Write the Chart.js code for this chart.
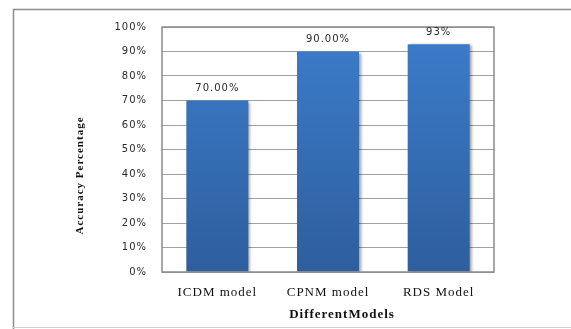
<!DOCTYPE html>
<html>
<head>
<meta charset="utf-8">
<script src="https://cdn.jsdelivr.net/npm/chart.js@4/dist/chart.umd.min.js"></script>
<style>
html,body{margin:0;padding:0;background:#fff;}
#wrap{width:571px;height:329px;position:relative;}
</style>
</head>
<body>
<div id="wrap"><canvas id="c" width="571" height="329"></canvas></div>
<script>
const categories = ["ICDM model", "CPNM model", "RDS Model"];
const accuracy = [70, 90, 93];
const valueLabels = ["70.00%", "90.00%", "93%"];
const yTicks = [0, 10, 20, 30, 40, 50, 60, 70, 80, 90, 100];
const xTitle = "DifferentModels";
const yTitle = "Accuracy Percentage";

const framePlugin = {
  id: 'frame',
  beforeDraw(chart) {
    const ctx = chart.ctx;
    ctx.save();
    ctx.fillStyle = '#fff';
    ctx.fillRect(0, 0, chart.width, chart.height);
    ctx.lineWidth = 1.5;
    ctx.strokeStyle = '#8c8c8c';
    ctx.beginPath();
    ctx.moveTo(13.5, chart.height);
    ctx.lineTo(13.5, 9.5);
    ctx.lineTo(chart.width, 9.5);
    ctx.stroke();
    ctx.lineWidth = 1;
    ctx.strokeStyle = '#d0d0d0';
    ctx.beginPath();
    ctx.moveTo(13, 327.5);
    ctx.lineTo(chart.width, 327.5);
    ctx.stroke();
    ctx.restore();
    ctx.letterSpacing = '1px';
  }
};

const shadowPlugin = {
  id: 'barShadow',
  beforeDatasetsDraw(chart) {
    const ctx = chart.ctx;
    ctx.save();
    ctx.shadowColor = 'rgba(0,0,0,0.4)';
    ctx.shadowBlur = 3;
    ctx.shadowOffsetX = 2;
    ctx.shadowOffsetY = 1;
  },
  afterDatasetsDraw(chart) {
    chart.ctx.restore();
  }
};

const borderPlugin = {
  id: 'plotBorder',
  afterDatasetsDraw(chart) {
    const {ctx, chartArea: a} = chart;
    ctx.save();
    ctx.strokeStyle = '#8a8a8a';
    ctx.lineWidth = 1.5;
    ctx.strokeRect(a.left, a.top, a.right - a.left, a.bottom - a.top);
    ctx.restore();
  }
};

const labelPlugin = {
  id: 'valueLabels',
  afterDatasetsDraw(chart) {
    const ctx = chart.ctx;
    const meta = chart.getDatasetMeta(0);
    ctx.save();
    ctx.letterSpacing = '1px';
    ctx.font = '10px "DejaVu Sans", Verdana, sans-serif';
    ctx.fillStyle = '#2a2a2a';
    ctx.textAlign = 'center';
    ctx.textBaseline = 'middle';
    meta.data.forEach((bar, i) => {
      ctx.fillText(valueLabels[i], bar.x, bar.y - 12);
    });
    ctx.restore();
  }
};

const titlePlugin = {
  id: 'axisTitles',
  afterDraw(chart) {
    const ctx = chart.ctx;
    const a = chart.chartArea;
    ctx.save();
    ctx.letterSpacing = '1px';
    ctx.fillStyle = '#111';
    ctx.textAlign = 'center';
    ctx.textBaseline = 'middle';
    ctx.font = 'bold 13px "Liberation Serif", "Times New Roman", serif';
    ctx.fillText(xTitle, (a.left + a.right) / 2 + 14, a.bottom + 43);
    ctx.translate(80, (a.top + a.bottom) / 2 + 26);
    ctx.rotate(-Math.PI / 2);
    ctx.font = 'bold 11px "Liberation Serif", "Times New Roman", serif';
    ctx.fillText(yTitle, 0, 0);
    ctx.restore();
  }
};

function barGradient(context) {
  const chart = context.chart;
  const a = chart.chartArea;
  if (!a) return '#3570b8';
  const g = chart.ctx.createLinearGradient(0, a.top, 0, a.bottom);
  g.addColorStop(0, '#3c7dcc');
  g.addColorStop(1, '#2e5e9d');
  return g;
}

new Chart(document.getElementById('c'), {
  type: 'bar',
  data: {
    labels: categories,
    datasets: [{
      data: accuracy,
      backgroundColor: barGradient,
      borderWidth: 0,
      categoryPercentage: 1,
      barPercentage: 0.56
    }]
  },
  plugins: [framePlugin, shadowPlugin, borderPlugin, labelPlugin, titlePlugin],
  options: {
    responsive: false,
    animation: false,
    devicePixelRatio: 1,
    layout: { padding: { left: 72, top: 27, right: 77, bottom: 0 } },
    plugins: { legend: { display: false }, tooltip: { enabled: false } },
    scales: {
      x: {
        grid: { display: false, drawTicks: false },
        border: { display: false },
        ticks: {
          padding: 13,
          color: '#111',
          font: { family: '"Liberation Serif", "Times New Roman", serif', size: 13 }
        },
        title: { display: false },
        afterFit(scale) { scale.height = 57; }
      },
      y: {
        min: 0,
        max: 100,
        afterBuildTicks(scale) { scale.ticks = yTicks.map(v => ({ value: v })); },
        grid: { color: '#a0a0a0', lineWidth: 1, drawTicks: false },
        border: { display: false },
        ticks: {
          padding: 15,
          color: '#2a2a2a',
          font: { family: '"DejaVu Sans", Verdana, sans-serif', size: 10 },
          callback: v => v + '%'
        },
        title: { display: false },
        afterFit(scale) { scale.width = 90; }
      }
    }
  }
});
</script>
</body>
</html>
